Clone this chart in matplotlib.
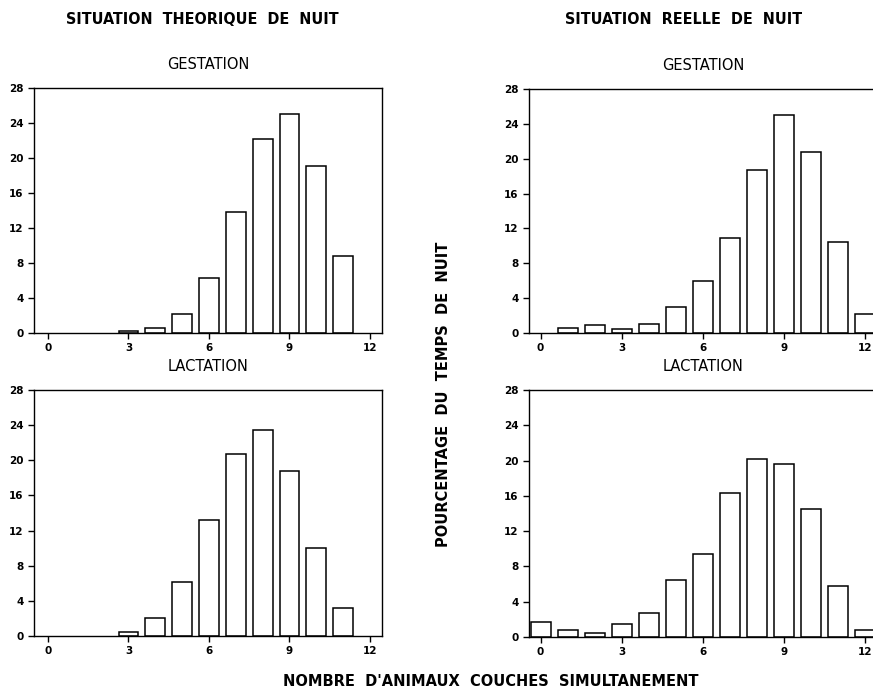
import matplotlib
matplotlib.use("Agg")
import matplotlib.pyplot as plt

# Data
x_theo_gest = [3, 4, 5, 6, 7, 8, 9, 10, 11]
y_theo_gest = [0.23, 0.57, 2.2, 6.3, 13.8, 22.2, 25.0, 19.1, 8.8]

x_theo_lact = [3, 4, 5, 6, 7, 8, 9, 10, 11]
y_theo_lact = [0.42, 2.1, 6.15, 13.2, 20.7, 23.4, 18.8, 10.0, 3.2]

x_reel_gest = [1, 2, 3, 4, 5, 6, 7, 8, 9, 10, 11, 12]
y_reel_gest = [0.57, 0.88, 0.5, 1.07, 3.0, 5.95, 10.95, 18.7, 25.0, 20.8, 10.4, 2.14]

x_reel_lact = [0, 1, 2, 3, 4, 5, 6, 7, 8, 9, 10, 11, 12]
y_reel_lact = [1.66, 0.83, 0.5, 1.48, 2.76, 6.5, 9.4, 16.3, 20.2, 19.6, 14.5, 5.8, 0.83]

xticks = [0, 3, 6, 9, 12]
yticks = [0, 4, 8, 12, 16, 20, 24, 28]

col_titles = ["SITUATION  THEORIQUE  DE  NUIT", "SITUATION  REELLE  DE  NUIT"]
row_titles = ["GESTATION", "LACTATION"]
ylabel = "POURCENTAGE  DU  TEMPS  DE  NUIT"
xlabel = "NOMBRE  D'ANIMAUX  COUCHES  SIMULTANEMENT"

FONT = "DejaVu Sans"

fig = plt.figure(figsize=(8.73, 6.91), dpi=100)

W = 873.0
H = 691.0

def add_ax(l, r, t, b):
    return fig.add_axes([l / W, 1 - b / H, (r - l) / W, (b - t) / H])

ax_tl = add_ax(34, 382, 88, 333)
ax_tr = add_ax(529, 877, 89, 333)
ax_bl = add_ax(34, 382, 390, 636)
ax_br = add_ax(529, 877, 390, 637)

panels = [
    (ax_tl, x_theo_gest, y_theo_gest, (-0.52, 12.45), row_titles[0]),
    (ax_tr, x_reel_gest, y_reel_gest, (-0.43, 12.45), row_titles[0]),
    (ax_bl, x_theo_lact, y_theo_lact, (-0.52, 12.45), row_titles[1]),
    (ax_br, x_reel_lact, y_reel_lact, (-0.43, 12.45), row_titles[1]),
]

for ax, xs, ys, xl, title in panels:
    ax.bar(xs, ys, width=0.74, color="white", edgecolor="black", linewidth=1.1)
    ax.set_xlim(*xl)
    ax.set_ylim(0, 28)
    ax.set_xticks(xticks)
    ax.set_yticks(yticks)
    ax.set_xticklabels([str(v) for v in xticks], fontsize=7.5, fontweight="bold", family=FONT)
    ax.set_yticklabels([str(v) for v in yticks], fontsize=7.5, fontweight="bold", family=FONT)
    ax.tick_params(axis="both", direction="out", length=4.5, width=1.0, pad=3)
    for s in ax.spines.values():
        s.set_linewidth(1.0)
    ax.set_title(title, fontsize=10.5, family=FONT, pad=14)

# Column titles
fig.text(202 / W, 1 - 20 / H, col_titles[0], ha="center", va="center",
         fontsize=11.5, fontweight="bold", family="DejaVu Sans", fontstretch="condensed")
fig.text(684 / W, 1 - 20 / H, col_titles[1], ha="center", va="center",
         fontsize=11.5, fontweight="bold", family="DejaVu Sans", fontstretch="condensed")

# Shared labels
fig.text(443 / W, 1 - 394 / H, ylabel, rotation=90, ha="center", va="center",
         fontsize=10.5, fontweight="bold", family=FONT)
fig.text(491 / W, 1 - 682 / H, xlabel, ha="center", va="center",
         fontsize=10.5, fontweight="bold", family=FONT)

fig.savefig("out.png", dpi=100)
